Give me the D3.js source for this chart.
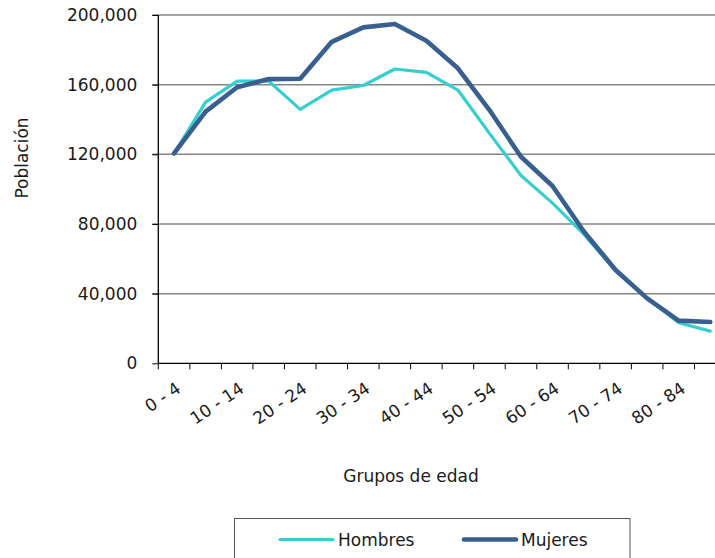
<!DOCTYPE html>
<html>
<head>
<meta charset="utf-8">
<script src="https://cdn.jsdelivr.net/npm/d3@7"></script>
<style>
  html, body { margin: 0; padding: 0; background: #fff; }
  svg text { font-family: "DejaVu Sans", sans-serif; fill: #1a1a1a; }
</style>
</head>
<body>
<svg id="chart" width="715" height="558"></svg>
<script>
const categories = ["0 - 4","5 - 9","10 - 14","15 - 19","20 - 24","25 - 29","30 - 34","35 - 39","40 - 44","45 - 49","50 - 54","55 - 59","60 - 64","65 - 69","70 - 74","75 - 79","80 - 84","85 +"];
const hombres = [120500, 150000, 162000, 162000, 145800, 156900, 159500, 169000, 167100, 156900, 132000, 107800, 92000, 74000, 53000, 37500, 23300, 18500];
const mujeres = [120500, 144500, 158500, 163200, 163400, 184600, 192900, 194800, 185200, 169400, 145400, 118600, 101800, 75500, 53600, 37300, 24500, 23700];
const yTicks = [0, 40000, 80000, 120000, 160000, 200000];
const seriesNames = ["Hombres", "Mujeres"];
const seriesColors = ["#36CED0", "#385F8E"];
const seriesWidths = [3.2, 4.6];

(function () {
const svg = d3.select("#chart");
const mLeft = 158.3, mRight = 726, mTop = 15, mBottom = 363.3;

const x = d3.scaleBand().domain(categories).range([mLeft, mRight]);
const y = d3.scaleLinear().domain([0, 200000]).range([mBottom, mTop]);
const fmt = d3.format(",");

// gridlines
svg.append("g").selectAll("line").data(yTicks.filter(d => d > 0)).join("line")
  .attr("x1", mLeft - 6).attr("x2", 715)
  .attr("y1", d => y(d)).attr("y2", d => y(d))
  .attr("stroke", "#868686").attr("stroke-width", 1.5);

// y axis
const yAxis = svg.append("g").attr("transform", `translate(${mLeft},0)`)
  .call(d3.axisLeft(y).tickValues(yTicks).tickFormat(fmt).tickSize(6).tickPadding(15));
yAxis.select(".domain").remove();
yAxis.selectAll(".tick line").attr("stroke", "#000");
yAxis.selectAll("text").attr("font-size", 17).attr("fill", "#1a1a1a")
  .style("font-family", "DejaVu Sans");
svg.append("line").attr("x1", mLeft).attr("x2", mLeft).attr("y1", mTop).attr("y2", mBottom)
  .attr("stroke", "#000").attr("stroke-width", 1.3);

// x axis
svg.append("line").attr("x1", mLeft).attr("x2", 715).attr("y1", mBottom).attr("y2", mBottom)
  .attr("stroke", "#000").attr("stroke-width", 1.3);
const bounds = categories.map(c => x(c));
svg.append("g").selectAll("line").data(bounds).join("line")
  .attr("x1", d => d).attr("x2", d => d).attr("y1", mBottom).attr("y2", mBottom + 6)
  .attr("stroke", "#000").attr("stroke-width", 1);

svg.append("g").selectAll("text").data(categories.filter((d, i) => i % 2 === 0)).join("text")
  .attr("transform", d => `translate(${x(d) + x.bandwidth() / 2 + 8},${mBottom + 28}) rotate(-34)`)
  .attr("text-anchor", "end")
  .attr("font-size", 17)
  .text(d => d);

// titles
svg.append("text").attr("transform", "translate(28,158) rotate(-90)")
  .attr("text-anchor", "middle").attr("font-size", 17).text("Población");
svg.append("text").attr("x", 411).attr("y", 482)
  .attr("text-anchor", "middle").attr("font-size", 17).text("Grupos de edad");

// lines
const line = d3.line().x((d, i) => x(categories[i]) + x.bandwidth() / 2).y(d => y(d));
[hombres, mujeres].forEach((vals, k) => {
  svg.append("path").datum(vals)
    .attr("d", line)
    .attr("fill", "none")
    .attr("stroke", seriesColors[k])
    .attr("stroke-width", seriesWidths[k])
    .attr("stroke-linejoin", "round")
    .attr("stroke-linecap", "round");
});

// legend
svg.append("rect").attr("x", 234.5).attr("y", 518.5).attr("width", 395.5).attr("height", 50)
  .attr("fill", "none").attr("stroke", "#555").attr("stroke-width", 1);
const legendItems = [{x1: 280, x2: 333, tx: 338}, {x1: 464, x2: 516, tx: 521}];
legendItems.forEach((it, k) => {
  svg.append("line").attr("x1", it.x1).attr("x2", it.x2).attr("y1", 539.5).attr("y2", 539.5)
    .attr("stroke", seriesColors[k]).attr("stroke-width", seriesWidths[k]).attr("stroke-linecap", "round");
  svg.append("text").attr("x", it.tx).attr("y", 545.5).attr("font-size", 17).text(seriesNames[k]);
});
})();
</script>
</body>
</html>
